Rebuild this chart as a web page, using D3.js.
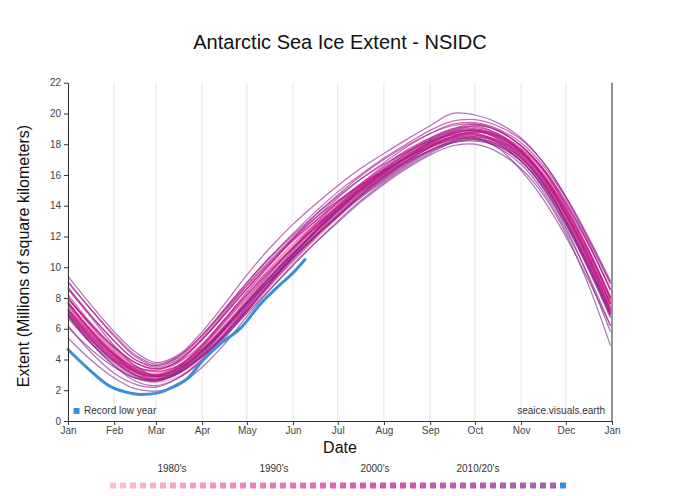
<!DOCTYPE html>
<html>
<head>
<meta charset="utf-8">
<script src="https://cdn.jsdelivr.net/npm/d3@7"></script>
<style>
  html, body { margin: 0; padding: 0; background: #fff; }
  svg { display: block; font-family: "Liberation Sans", Arial, sans-serif; }
</style>
</head>
<body>
<svg id="chart" width="680" height="496"></svg>
<script>
// ---- Data (millions of km², sampled on day-of-year) ----
const sampleDays = [0,15,31,45,59,74,90,105,120,135,151,166,181,196,212,227,243,258,273,288,304,319,334,349,364];

const y1978 = [null,null,null,null,null,null,null,null,null,null,null,null,null,null,null,null,null,null,null,null,17.6,16.2,13.9,11.0,7.6];
const y1979 = [7.2,5.6,4.1,3.2,2.9,3.4,4.6,6.2,7.9,9.6,11.3,12.6,13.8,15.0,16.2,17.1,17.9,18.5,18.7,18.4,17.5,15.9,13.6,10.7,7.3];
const y1980 = [7.3,5.7,4.4,3.5,3.3,3.9,5.4,7.1,8.9,10.5,12.0,13.2,14.3,15.3,16.3,17.1,17.9,18.5,18.9,18.5,17.6,16.1,13.9,11.1,7.9];
const y1981 = [7.9,6.4,4.9,3.8,3.3,3.5,4.3,5.6,7.1,8.8,10.6,12.2,13.6,14.9,16.1,17.0,17.9,18.6,18.9,18.5,17.4,15.9,13.6,10.9,7.7];
const y1982 = [7.6,5.8,4.2,3.2,2.8,3.3,4.5,6.0,7.7,9.4,11.1,12.6,13.9,15.2,16.3,17.2,18.0,18.6,18.6,18.2,17.3,15.8,13.5,10.8,7.6];
const y1983 = [7.5,5.7,4.1,3.1,2.8,3.5,4.9,6.6,8.3,9.9,11.5,12.8,13.9,14.9,15.9,16.8,17.7,18.3,18.5,18.3,17.3,15.6,13.1,10.3,7.1];
const y1984 = [6.9,5.1,3.7,2.8,2.5,2.9,4.0,5.5,7.2,8.8,10.4,11.8,13.2,14.5,15.7,16.7,17.6,18.2,18.5,18.3,17.2,15.6,13.2,10.4,7.2];
const y1985 = [7.0,5.5,4.2,3.3,3.0,3.6,5.0,6.6,8.3,9.9,11.5,12.9,14.1,15.3,16.4,17.3,18.1,18.7,18.9,18.5,17.6,16.1,13.8,11.1,8.0];
const y1986 = [7.8,6.0,4.4,3.3,2.8,3.1,4.1,5.5,7.2,8.9,10.6,12.1,13.6,15.0,16.2,17.1,17.9,18.4,18.5,18.1,17.2,15.8,13.5,10.6,7.4];
const y1987 = [7.3,5.7,4.3,3.4,3.1,3.8,5.3,7.0,8.6,10.1,11.5,12.8,14.0,15.1,16.2,17.1,18.0,18.6,18.8,18.6,17.8,16.3,13.9,11.0,7.9];
const y1988 = [8.0,6.3,4.6,3.5,3.0,3.3,4.3,5.7,7.4,9.1,10.9,12.4,13.8,15.1,16.2,17.1,17.8,18.3,18.5,18.3,17.5,15.9,13.3,10.3,7.0];
const y1989 = [6.9,5.3,3.9,3.0,2.7,3.2,4.5,6.1,7.9,9.6,11.3,12.7,13.9,15.0,16.0,16.9,17.8,18.4,18.6,18.2,17.2,15.6,13.3,10.5,7.3];
const y1990 = [7.2,5.5,4.0,3.1,2.8,3.3,4.5,6.0,7.6,9.2,10.8,12.2,13.6,14.9,16.1,17.1,17.9,18.4,18.4,18.0,17.1,15.4,13.0,10.2,7.0];
const y1991 = [6.9,5.3,4.0,3.2,2.9,3.4,4.6,6.1,7.7,9.3,11.0,12.5,13.9,15.2,16.4,17.3,18.1,18.7,18.9,18.6,17.6,15.9,13.6,10.9,7.8];
const y1992 = [7.7,5.9,4.3,3.2,2.8,3.2,4.3,5.6,7.1,8.7,10.5,12.0,13.4,14.7,15.9,16.9,17.8,18.4,18.6,18.2,17.1,15.5,13.1,10.2,6.9];
const y1993 = [6.8,5.2,3.9,3.0,2.7,3.2,4.4,6.0,7.7,9.3,10.9,12.3,13.6,14.9,16.1,17.1,18.0,18.7,19.0,18.6,17.5,15.8,13.4,10.6,7.4];
const y1994 = [7.3,5.6,4.1,3.2,2.9,3.4,4.6,5.9,7.5,9.1,10.8,12.4,13.8,15.1,16.2,17.2,18.2,18.8,18.9,18.4,17.3,15.6,13.1,10.2,6.9];
const y1995 = [6.9,5.3,4.0,3.2,2.9,3.5,4.8,6.4,8.0,9.6,11.2,12.6,13.9,15.2,16.3,17.3,18.2,18.8,18.9,18.4,17.3,15.7,13.4,10.7,7.6];
const y1996 = [7.6,5.9,4.3,3.3,2.9,3.3,4.4,5.8,7.4,9.0,10.6,12.0,13.4,14.7,15.9,16.9,17.8,18.5,18.8,18.5,17.5,15.9,13.5,10.8,7.7];
const y1997 = [7.7,5.9,4.3,3.3,2.9,3.3,4.3,5.7,7.3,8.9,10.6,12.1,13.5,14.7,15.8,16.8,17.6,18.2,18.4,18.0,17.0,15.4,13.1,10.2,7.0];
const y1998 = [7.0,5.4,4.0,3.2,2.9,3.5,4.8,6.4,8.1,9.7,11.3,12.7,14.0,15.2,16.2,17.1,18.0,18.5,18.6,18.3,17.5,15.9,13.6,10.8,7.6];
const y1999 = [7.5,5.8,4.3,3.3,2.9,3.4,4.6,6.1,7.7,9.3,10.9,12.4,13.8,15.0,16.1,17.1,18.0,18.7,18.9,18.5,17.4,15.7,13.3,10.5,7.3];
const y2000 = [7.2,5.6,4.2,3.3,3.0,3.6,4.9,6.5,8.2,9.8,11.3,12.6,13.8,14.9,16.0,16.9,17.8,18.4,18.8,18.5,17.6,16.0,13.8,11.1,7.9];
const y2001 = [8.0,6.2,4.5,3.4,3.0,3.4,4.5,5.9,7.5,9.1,10.8,12.3,13.7,14.9,16.0,17.0,17.9,18.5,18.6,18.1,17.1,15.5,13.0,10.1,7.0];
const y2002 = [7.0,5.3,3.9,3.0,2.7,3.1,4.2,5.6,7.2,8.8,10.4,11.9,13.3,14.7,15.9,16.9,17.8,18.5,18.7,18.1,16.9,15.3,13.0,10.3,7.2];
const y2003 = [7.3,5.7,4.3,3.5,3.3,3.9,5.3,7.0,8.8,10.4,11.9,13.2,14.3,15.3,16.3,17.1,17.9,18.5,18.8,18.5,17.5,16.0,13.8,11.2,8.1];
const y2004 = [8.0,6.3,4.8,3.8,3.4,3.8,5.0,6.6,8.2,9.7,11.2,12.6,13.9,15.1,16.2,17.2,18.1,18.7,18.9,18.6,17.6,15.9,13.5,10.7,7.6];
const y2005 = [7.7,6.0,4.4,3.4,3.0,3.4,4.6,6.0,7.6,9.3,11.1,12.6,14.0,15.3,16.4,17.4,18.3,18.9,19.2,18.7,17.6,15.9,13.5,10.7,7.6];
const y2006 = [7.7,5.9,4.3,3.2,2.7,3.1,4.2,5.6,7.2,8.9,10.7,12.3,13.7,15.0,16.1,17.1,18.1,18.8,19.2,18.9,17.9,16.3,14.0,11.2,8.0];
const y2007 = [8.0,6.3,4.8,3.8,3.4,3.9,5.3,6.9,8.6,10.2,11.7,13.0,14.3,15.4,16.5,17.5,18.4,19.0,19.3,18.9,17.9,16.4,14.2,11.6,8.5];
const y2008 = [8.6,6.9,5.2,4.0,3.6,4.2,5.6,7.2,8.8,10.3,11.8,13.0,14.2,15.3,16.3,17.1,17.9,18.4,18.5,18.2,17.4,15.9,13.7,11.0,8.0];
const y2009 = [8.2,6.4,4.7,3.6,3.2,3.6,4.7,6.2,7.8,9.5,11.3,12.8,14.2,15.4,16.6,17.6,18.4,19.0,19.1,18.7,17.7,16.3,14.1,11.5,8.6];
const y2010 = [8.7,6.9,5.2,4.0,3.5,4.0,5.3,6.9,8.6,10.2,11.8,13.2,14.5,15.7,16.8,17.8,18.7,19.2,19.3,18.9,17.9,16.4,14.3,11.6,8.5];
const y2011 = [8.6,6.8,4.9,3.6,2.9,3.2,4.2,5.6,7.2,8.9,10.8,12.4,13.8,15.1,16.3,17.4,18.3,18.9,19.0,18.6,17.5,15.8,13.4,10.5,7.2];
const y2012 = [7.1,5.5,4.1,3.2,2.9,3.5,4.9,6.6,8.4,10.1,11.9,13.4,14.7,15.9,17.0,17.9,18.7,19.3,19.4,19.0,18.1,16.6,14.5,11.8,8.9];
const y2013 = [9.0,7.3,5.6,4.3,3.7,4.2,5.6,7.3,9.0,10.6,12.2,13.6,14.9,16.0,17.1,18.0,18.9,19.5,19.6,19.2,18.3,16.8,14.6,12.0,9.1];
const y2014 = [9.4,7.6,5.8,4.5,3.8,4.3,5.8,7.6,9.5,11.2,12.8,14.1,15.3,16.4,17.4,18.3,19.2,20.0,19.9,19.4,18.4,16.8,14.6,11.9,9.0];
const y2015 = [9.1,7.3,5.5,4.2,3.6,4.1,5.5,7.2,9.0,10.6,12.1,13.4,14.6,15.7,16.7,17.5,18.2,18.6,18.7,18.2,17.1,15.4,13.0,10.2,7.1];
const y2016 = [7.2,5.4,3.9,3.0,2.6,3.1,4.3,6.0,7.7,9.3,10.9,12.3,13.6,14.8,15.9,16.9,17.8,18.3,18.4,17.8,16.3,14.4,12.0,9.2,6.2];
const y2017 = [6.2,4.5,3.1,2.4,2.2,2.8,4.0,5.6,7.4,9.1,10.7,12.1,13.4,14.6,15.7,16.7,17.6,18.1,18.3,17.9,16.9,15.2,12.8,10.0,6.9];
const y2018 = [6.9,5.1,3.6,2.6,2.3,2.8,3.9,5.4,7.1,8.9,10.6,12.0,13.3,14.5,15.6,16.6,17.5,18.1,18.2,17.9,16.9,15.2,12.8,9.9,6.7];
const y2019 = [6.7,5.1,3.8,2.9,2.6,3.1,4.2,5.5,7.0,8.5,10.1,11.6,13.0,14.3,15.5,16.5,17.4,18.1,18.3,17.8,16.7,14.9,12.4,9.5,6.2];
const y2020 = [6.1,4.7,3.5,2.8,2.7,3.3,4.6,6.1,7.7,9.3,10.9,12.3,13.7,15.0,16.2,17.2,18.1,18.7,18.9,18.4,17.2,15.5,13.0,10.0,6.8];
const y2021 = [6.9,5.1,3.6,2.8,2.6,3.2,4.5,6.0,7.6,9.1,10.6,12.0,13.3,14.6,15.8,16.8,17.6,18.2,18.4,18.0,16.9,15.1,12.6,9.4,5.8];
const y2022 = [5.4,4.0,2.8,2.1,1.95,2.3,3.5,5.0,6.8,8.5,10.2,11.6,12.9,14.2,15.4,16.4,17.3,17.9,18.0,17.5,16.4,14.7,12.2,8.9,4.9];

const seriesYears = [1978,1979,1980,1981,1982,1983,1984,1985,1986,1987,1988,1989,1990,1991,1992,1993,1994,1995,1996,1997,1998,1999,2000,2001,2002,2003,2004,2005,2006,2007,2008,2009,2010,2011,2012,2013,2014,2015,2016,2017,2018,2019,2020,2021,2022];
const seriesValues = [y1978,y1979,y1980,y1981,y1982,y1983,y1984,y1985,y1986,y1987,y1988,y1989,y1990,y1991,y1992,y1993,y1994,y1995,y1996,y1997,y1998,y1999,y2000,y2001,y2002,y2003,y2004,y2005,y2006,y2007,y2008,y2009,y2010,y2011,y2012,y2013,y2014,y2015,y2016,y2017,y2018,y2019,y2020,y2021,y2022];

// Record low year (2023), partial year
const recordYear = 2023;
const recordDays = [0,8,17,28,39,48,62,69,80,91,102,116,129,140,151,159];
const recordValues = [4.65,3.9,3.1,2.27,1.88,1.73,1.86,2.15,2.75,4.0,5.0,6.06,7.6,8.66,9.63,10.5];

const yTicks = [0,2,4,6,8,10,12,14,16,18,20,22];
const decadeLabels = ["1980's","1990's","2000's","2010/20's"];
const decadeCenters = [1983.9, 1994.1, 2004.2, 2014.5];

// ---- Layout ----
const svg = d3.select("#chart");
const W = 680, H = 496;
const plot = {left: 68, right: 612, top: 82.7, bottom: 421};

const t0 = new Date(2001, 0, 1), t1 = new Date(2002, 0, 1);
const x = d3.scaleTime().domain([t0, t1]).range([plot.left, plot.right]);
const y = d3.scaleLinear().domain([0, 22]).range([plot.bottom, plot.top]);
const dayToDate = d => d3.timeDay.offset(t0, d);

const lineColor = d3.scaleLinear()
  .domain([1978, 1985, 1995, 2005, 2015, 2022])
  .range(["#f7a8c4", "#ee7fb0", "#d9449a", "#c0168b", "#9a208f", "#7a2c88"])
  .interpolate(d3.interpolateRgb);
const recordColor = "#3a8fd9";

svg.append("rect").attr("width", W).attr("height", H).attr("fill", "#fff");

// vertical grid lines
const months = x.ticks(d3.timeMonth.every(1));
svg.append("g").selectAll("line").data(months).join("line")
  .attr("x1", d => x(d)).attr("x2", d => x(d))
  .attr("y1", plot.top).attr("y2", plot.bottom)
  .attr("stroke", "#e6e6e6").attr("stroke-width", 1);

// year lines
const line = d3.line()
  .defined(d => d.v != null)
  .x(d => x(dayToDate(d.day)))
  .y(d => y(d.v))
  .curve(d3.curveCatmullRom.alpha(0.5));

const gLines = svg.append("g");
seriesYears.forEach((yr, i) => {
  const pts = sampleDays.map((day, j) => ({day, v: seriesValues[i][j]}));
  gLines.append("path")
    .attr("d", line(pts))
    .attr("fill", "none")
    .attr("stroke", lineColor(yr))
    .attr("stroke-width", 1.25)
    .attr("stroke-opacity", 0.65);
});

const recPts = recordDays.map((day, j) => ({day, v: recordValues[j]}));
svg.append("path")
  .attr("d", line(recPts))
  .attr("fill", "none")
  .attr("stroke", recordColor)
  .attr("stroke-width", 3)
  .attr("stroke-linecap", "round");

// axes
const xAxis = d3.axisBottom(x).ticks(d3.timeMonth.every(1))
  .tickFormat(d3.timeFormat("%b")).tickSize(4).tickPadding(2).tickSizeOuter(0);
const yAxis = d3.axisLeft(y).tickValues(yTicks).tickSize(4).tickPadding(3).tickSizeOuter(0);

const gx = svg.append("g").attr("transform", `translate(0,${plot.bottom})`).call(xAxis);
const gy = svg.append("g").attr("transform", `translate(${plot.left},0)`).call(yAxis);
[gx, gy].forEach(g => {
  g.selectAll("path.domain").attr("stroke", "#333");
  g.selectAll(".tick line").attr("stroke", "#333");
  g.selectAll(".tick text").attr("fill", "#444").style("font-size", "10px")
    .style("font-family", '"Liberation Sans", Arial, sans-serif');
});

// right border
svg.append("line")
  .attr("x1", plot.right).attr("x2", plot.right)
  .attr("y1", plot.top).attr("y2", plot.bottom)
  .attr("stroke", "#333").attr("stroke-width", 1);

// titles
svg.append("text").attr("x", 340).attr("y", 49).attr("text-anchor", "middle")
  .style("font-size", "20px").attr("fill", "#111").text("Antarctic Sea Ice Extent - NSIDC");
svg.append("text").attr("transform", `translate(29,256) rotate(-90)`).attr("text-anchor", "middle")
  .style("font-size", "16px").attr("fill", "#111").text("Extent (Millions of square kilometers)");
svg.append("text").attr("x", 340).attr("y", 453).attr("text-anchor", "middle")
  .style("font-size", "16px").attr("fill", "#111").text("Date");

// in-plot legend + credit
svg.append("rect").attr("x", 73.5).attr("y", 408).attr("width", 6).attr("height", 6).attr("fill", recordColor);
svg.append("text").attr("x", 84).attr("y", 414).style("font-size", "10px").attr("fill", "#333").text("Record low year");
svg.append("text").attr("x", 605).attr("y", 414).attr("text-anchor", "end").style("font-size", "10px").attr("fill", "#333").text("seaice.visuals.earth");

// bottom year legend
const legendYears = seriesYears.concat([recordYear]);
const lx = d3.scaleLinear().domain([1978, 2023]).range([113, 563]);
svg.append("g").selectAll("rect").data(legendYears).join("rect")
  .attr("x", d => lx(d) - 3).attr("y", 482.5).attr("width", 6).attr("height", 6)
  .attr("fill", d => d === recordYear ? recordColor : lineColor(d))
  .attr("fill-opacity", d => d === recordYear ? 1 : 0.72);
svg.append("g").selectAll("text").data(decadeLabels).join("text")
  .attr("x", (d, i) => lx(decadeCenters[i])).attr("y", 472)
  .attr("text-anchor", "middle").style("font-size", "10px").attr("fill", "#333")
  .text(d => d);
</script>
</body>
</html>
